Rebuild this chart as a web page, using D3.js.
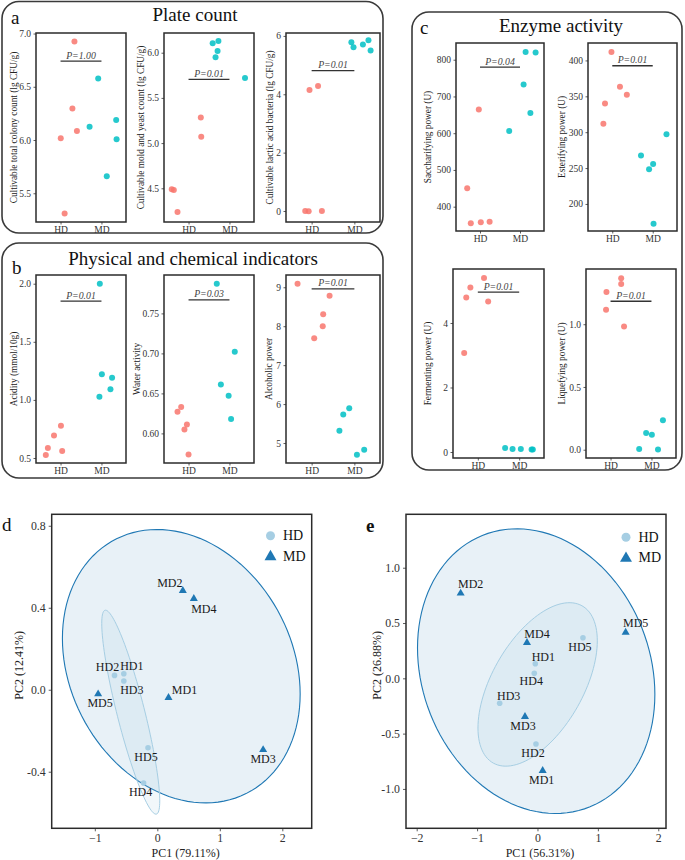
<!DOCTYPE html>
<html><head><meta charset="utf-8">
<script src="https://cdn.jsdelivr.net/npm/d3@7"></script>
<style>body{margin:0;background:#fff} svg{display:block;font-family:"Liberation Serif","Times New Roman",serif}</style>
</head><body><svg id="chart" width="685" height="860"></svg>
<script>
// ---------------- DATA ----------------
const groups = ["HD", "MD"];

// a: Plate count
const totalColonyHD = [6.016, 6.297, 6.084, 6.925, 5.31];
const totalColonyMD = [6.125, 6.578, 5.66, 6.187, 6.006];
const moldYeastHD = [4.489, 4.48, 4.238, 5.284, 5.07];
const moldYeastMD = [6.104, 6.13, 6.019, 5.95, 5.72];
const lacticHD = [0.0, -0.01, 0.0, 4.147, 4.285];
const lacticMD = [5.78, 5.61, 5.71, 5.85, 5.50];
// b: Physical and chemical indicators
const acidityHD = [0.526, 0.586, 0.694, 0.777, 0.56];
const acidityMD = [2.0, 1.221, 1.19, 1.092, 1.028];
const waterHD = [0.627, 0.633, 0.605, 0.611, 0.5735];
const waterMD = [0.787, 0.702, 0.661, 0.647, 0.618];
const alcoholHD = [9.09, 8.785, 8.31, 8.0, 7.69];
const alcoholMD = [5.89, 5.73, 5.315, 4.70, 4.83];
// c: Enzyme activity
const sacchHD = [450.1, 354.7, 357.4, 359.1, 664.3];
const sacchMD = [606.3, 732.5, 655.3, 820.7, 819.6];
const esterHD = [411.7, 340.0, 311.7, 363.3, 352.1];
const esterMD = [297.2, 267.4, 248.3, 255.7, 172.3];
const fermHD = [3.07, 4.79, 5.10, 5.395, 4.67];
const fermMD = [0.124, 0.093, 0.093, 0.08, 0.08];
const liqHD = [1.116, 1.257, 1.366, 1.32, 0.981];
const liqMD = [0.006, 0.133, 0.119, 0.002, 0.234];

// jitter offsets (in category units)
const jit = {
  totalColony: [[0.005, 0.29, 0.40, 0.34, 0.10], [-0.29, -0.08, 0.13, 0.36, 0.37]],
  moldYeast: [[-0.41, -0.36, -0.27, 0.30, 0.31], [-0.41, -0.27, -0.29, -0.34, 0.38]],
  lactic: [[-0.15, -0.07, 0.24, -0.05, 0.15], [-0.07, -0.02, 0.20, 0.33, 0.38]],
  acidity: [[-0.36, -0.31, -0.16, 0.01, 0.04], [-0.04, 0.01, 0.26, 0.22, -0.05]],
  water: [[-0.27, -0.18, -0.10, -0.04, 0.0], [-0.31, 0.13, -0.21, -0.02, 0.04]],
  alcohol: [[-0.33, 0.42, 0.27, 0.26, 0.06], [-0.12, -0.26, -0.35, 0.06, 0.23]],
  sacch: [[-0.32, -0.23, 0.02, 0.24, -0.03], [-0.27, 0.09, 0.26, 0.14, 0.39]],
  ester: [[-0.02, -0.18, -0.22, 0.19, 0.36], [0.34, -0.29, -0.09, 0.01, 0.02]],
  ferm: [[-0.33, -0.28, -0.18, 0.15, 0.25], [-0.34, -0.16, 0.04, 0.30, 0.33]],
  liq: [[-0.11, -0.10, 0.26, 0.26, 0.33], [-0.3, -0.13, 0.01, 0.16, 0.28]]
};

const pLabels = ["P=1.00", "P=0.01", "P=0.01", "P=0.01", "P=0.03", "P=0.01", "P=0.04", "P=0.01", "P=0.01", "P=0.01"];
const pLevels = [6.74, 5.706, 4.81, 1.851, 0.767, 8.96, 780, 392.6, 4.96, 1.183];

const yTitles = ["Cultivable total colony count (lg CFU/g)", "Cultivable mold and yeast count (lg CFU/g)",
  "Cultivable lactic acid bacteria (lg CFU/g)", "Acidity (mmol/10g)", "Water activity", "Alcoholic power",
  "Saccharifying power (U)", "Esterifying power (U)", "Fermenting power (U)", "Liquefying power (U)"];
const yTicks = [[5.5, 6.0, 6.5, 7.0], [4.5, 5.0, 5.5, 6.0], [0, 2, 4, 6], [0.5, 1.0, 1.5, 2.0],
  [0.60, 0.65, 0.70, 0.75], [5, 6, 7, 8, 9], [400, 500, 600, 700, 800], [200, 250, 300, 350, 400],
  [0, 2, 4], [0.0, 0.5, 1.0]];

// PCA
const sampleNames = ["HD1", "HD2", "HD3", "HD4", "HD5", "MD1", "MD2", "MD3", "MD4", "MD5"];
const sampleGroups = ["HD", "HD", "HD", "HD", "HD", "MD", "MD", "MD", "MD", "MD"];
const pcaD_PC1 = [-0.536, -0.685, -0.536, -0.22, -0.149, 0.179, 0.408, 1.693, 0.584, -0.947];
const pcaD_PC2 = [0.078, 0.070, 0.043, -0.455, -0.283, -0.039, 0.483, -0.293, 0.444, -0.021];
const pcaE_PC1 = [-0.036, -0.025, -0.626, -0.053, 0.753, 0.086, -1.272, -0.207, -0.174, 1.46];
const pcaE_PC2 = [0.132, -0.594, -0.226, 0.045, 0.367, -0.835, 0.769, -0.347, 0.322, 0.416];
const pcaXTicksD = [-1, 0, 1, 2];
const pcaYTicksD = [-0.4, 0.0, 0.4, 0.8];
const pcaXTicksE = [-2, -1, 0, 1, 2];
const pcaYTicksE = [-1.0, -0.5, 0.0, 0.5, 1.0];
// confidence ellipse spreads (sd-x, sd-y, correlation)
const ellipseD = {HD: [0.464, 0.4976, -0.87], MD: [1.902, 0.667, -0.2035]};
const ellipseE = {HD: [0.988, 0.739, 0.533], MD: [1.965, 1.287, -0.163]};

// ---------------- LAYOUT ----------------
const stripLayout = [
  {key: "totalColony", hd: totalColonyHD, md: totalColonyMD, frame: [36, 126, 33, 222], dom: [5.23, 7.005], fmt: ".1f", tx: 13.5},
  {key: "moldYeast", hd: moldYeastHD, md: moldYeastMD, frame: [164, 254, 33, 222], dom: [4.127, 6.218], fmt: ".1f", tx: 140.7},
  {key: "lactic", hd: lacticHD, md: lacticMD, frame: [286, 380, 33, 222], dom: [-0.377, 6.1], fmt: "d", tx: 270},
  {key: "acidity", hd: acidityHD, md: acidityMD, frame: [36, 126, 275, 463], dom: [0.457, 2.075], fmt: ".1f", tx: 13.5},
  {key: "water", hd: waterHD, md: waterMD, frame: [164, 254, 275, 463], dom: [0.563, 0.798], fmt: ".2f", tx: 136.7},
  {key: "alcohol", hd: alcoholHD, md: alcoholMD, frame: [286, 380, 275, 463], dom: [4.487, 9.315], fmt: "d", tx: 268.7},
  {key: "sacch", hd: sacchHD, md: sacchMD, frame: [456, 544, 43, 231], dom: [333.8, 845.5], fmt: "d", tx: 428.3},
  {key: "ester", hd: esterHD, md: esterMD, frame: [588, 677, 43, 231], dom: [162.3, 424.3], fmt: "d", tx: 561.7},
  {key: "ferm", hd: fermHD, md: fermMD, frame: [453, 544, 269, 458], dom: [-0.186, 5.674], fmt: "d", tx: 428.3},
  {key: "liq", hd: liqHD, md: liqMD, frame: [586, 676, 269, 458], dom: [-0.066, 1.44], fmt: ".1f", tx: 561.7}
];

const COL = {HD: "#F8766D", MD: "#00BFC4"};
const PCOL = {HD: "#A6CEE3", MD: "#1F78B4"};
const svg = d3.select("#chart");

function roundBox(x0, y0, x1, y1) {
  svg.append("rect").attr("x", x0).attr("y", y0).attr("width", x1 - x0).attr("height", y1 - y0)
    .attr("rx", 17).attr("fill", "none").attr("stroke", "#3a3a3a").attr("stroke-width", 1.6);
}
function txt(x, y, s, size, opts = {}) {
  const t = svg.append("text").attr("x", x).attr("y", y).text(s).attr("font-size", size)
    .attr("fill", opts.fill || "#111").attr("text-anchor", opts.anchor || "middle");
  if (opts.weight) t.attr("font-weight", opts.weight);
  return t;
}

roundBox(2, 1.5, 383, 233);
roundBox(2, 243, 383, 478);
roundBox(412, 12, 682, 470);
txt(195, 21, "Plate count", 19);
txt(193, 265, "Physical and chemical indicators", 19);
txt(561, 32, "Enzyme activity", 19);
txt(11, 24, "a", 19, {anchor: "start"});
txt(12, 274, "b", 19, {anchor: "start"});
txt(420, 34, "c", 19, {anchor: "start"});

function styleAxis(g, size) {
  g.selectAll("path").remove();
  g.selectAll("line").attr("stroke", "#333").attr("stroke-width", 0.8);
  g.selectAll("text").attr("font-family", "Liberation Serif, serif").attr("font-size", size).attr("fill", "#333");
}

stripLayout.forEach((L, i) => {
  const [x0, x1, y0, y1] = L.frame;
  const x = d3.scalePoint().domain(groups).range([x0, x1]).padding(0.6);
  const y = d3.scaleLinear().domain(L.dom).range([y1, y0]);
  const g = svg.append("g");
  const ya = g.append("g").attr("transform", `translate(${x0},0)`)
    .call(d3.axisLeft(y).tickValues(yTicks[i]).tickFormat(d3.format(L.fmt)).tickSize(2.5).tickPadding(2.5));
  styleAxis(ya, 9.5);
  const xa = g.append("g").attr("transform", `translate(0,${y1})`)
    .call(d3.axisBottom(x).tickSize(2.5).tickPadding(1.5));
  styleAxis(xa, 9.5);
  g.append("rect").attr("x", x0).attr("y", y0).attr("width", x1 - x0).attr("height", y1 - y0)
    .attr("fill", "none").attr("stroke", "#2b2b2b").attr("stroke-width", 1.5);
  g.append("text").attr("transform", `translate(${L.tx},${(y0 + y1) / 2}) rotate(-90)`)
    .attr("text-anchor", "middle").attr("dominant-baseline", "central")
    .attr("font-size", 9.3).attr("fill", "#222").text(yTitles[i]);
  const pts = [];
  [L.hd, L.md].forEach((arr, gi) => arr.forEach((v, k) => pts.push({g: groups[gi], v, j: jit[L.key][gi][k]})));
  g.selectAll("circle.pt").data(pts).join("circle").attr("class", "pt")
    .attr("cx", d => x(d.g) + d.j * x.step()).attr("cy", d => y(d.v)).attr("r", 3)
    .attr("fill", d => COL[d.g]).attr("fill-opacity", 0.85);
  const py = y(pLevels[i]);
  g.append("line").attr("x1", x("HD")).attr("x2", x("MD")).attr("y1", py).attr("y2", py)
    .attr("stroke", "#333").attr("stroke-width", 1.3);
  g.append("text").attr("x", (x("HD") + x("MD")) / 2).attr("y", py - 2.5).attr("text-anchor", "middle")
    .attr("font-size", 9.8).attr("font-style", "italic").attr("fill", "#444").text(pLabels[i]);
});

// ---------------- PCA ----------------
function pca(cfg) {
  const [x0, x1, y0, y1] = cfg.frame;
  const x = d3.scaleLinear().domain(cfg.xDom).range([x0, x1]);
  const y = d3.scaleLinear().domain(cfg.yDom).range([y1, y0]);
  const g = svg.append("g");
  const data = sampleNames.map((n, i) => ({n, g: sampleGroups[i], x: cfg.pc1[i], y: cfg.pc2[i], o: cfg.off[i]}));
  // ellipses
  ["MD", "HD"].forEach(gr => {
    const sub = data.filter(d => d.g === gr);
    const cx = d3.mean(sub, d => d.x), cy = d3.mean(sub, d => d.y);
    const [sx, sy, r] = cfg.ell[gr];
    const pts = d3.range(0, 121).map(k => {
      const t = k / 120 * 2 * Math.PI;
      return [cx + sx * Math.cos(t), cy + sy * (r * Math.cos(t) + Math.sqrt(1 - r * r) * Math.sin(t))];
    });
    g.append("path").attr("d", d3.line().x(d => x(d[0])).y(d => y(d[1]))(pts) + "Z")
      .attr("fill", PCOL[gr]).attr("fill-opacity", gr === "MD" ? 0.1 : 0.16)
      .attr("stroke", PCOL[gr]).attr("stroke-width", gr === "MD" ? 1.1 : 1);
  });
  const ya = g.append("g").attr("transform", `translate(${x0},0)`)
    .call(d3.axisLeft(y).tickValues(cfg.yt).tickFormat(d => d3.format(".1f")(d).replace("−", "-")).tickSize(3).tickPadding(3));
  styleAxis(ya, 11.8);
  const xa = g.append("g").attr("transform", `translate(0,${y1})`)
    .call(d3.axisBottom(x).tickValues(cfg.xt).tickFormat(d3.format("d")).tickSize(3).tickPadding(2.5));
  styleAxis(xa, 11.8);
  g.append("rect").attr("x", x0).attr("y", y0).attr("width", x1 - x0).attr("height", y1 - y0)
    .attr("fill", "none").attr("stroke", "#2b2b2b").attr("stroke-width", 1.5);
  // points
  g.selectAll("circle.hd").data(data.filter(d => d.g === "HD")).join("circle").attr("class", "hd")
    .attr("cx", d => x(d.x)).attr("cy", d => y(d.y)).attr("r", 2.8).attr("fill", PCOL.HD);
  g.selectAll("path.md").data(data.filter(d => d.g === "MD")).join("path").attr("class", "md")
    .attr("d", d3.symbol(d3.symbolTriangle, 28)).attr("transform", d => `translate(${x(d.x)},${y(d.y)})`)
    .attr("fill", PCOL.MD);
  g.selectAll("text.lab").data(data).join("text").attr("class", "lab")
    .attr("x", d => x(d.x) + d.o[0]).attr("y", d => y(d.y) + d.o[1])
    .attr("text-anchor", "middle").attr("dominant-baseline", "central")
    .attr("font-size", 12).attr("fill", "#1a1a1a").text(d => d.n);
  // legend
  g.append("circle").attr("cx", cfg.leg[0]).attr("cy", cfg.leg[1]).attr("r", 4.5).attr("fill", PCOL.HD);
  g.append("path").attr("d", d3.symbol(d3.symbolTriangle, 62))
    .attr("transform", `translate(${cfg.leg[0]},${cfg.leg[1] + 21})`).attr("fill", PCOL.MD);
  g.append("text").attr("x", cfg.leg[0] + 12.5).attr("y", cfg.leg[1]).attr("dominant-baseline", "central")
    .attr("font-size", 14).attr("fill", "#111").text("HD");
  g.append("text").attr("x", cfg.leg[0] + 12.5).attr("y", cfg.leg[1] + 20.5).attr("dominant-baseline", "central")
    .attr("font-size", 14).attr("fill", "#111").text("MD");
  // axis titles
  g.append("text").attr("x", (x0 + x1) / 2 + 4).attr("y", 857).attr("text-anchor", "middle")
    .attr("font-size", 12).attr("fill", "#222").text(cfg.xTitle);
  g.append("text").attr("transform", `translate(${cfg.ytx},${(y0 + y1) / 2 - 6}) rotate(-90)`)
    .attr("text-anchor", "middle").attr("dominant-baseline", "central")
    .attr("font-size", 12).attr("fill", "#222").text(cfg.yTitle);
  g.append("text").attr("x", cfg.letter[0]).attr("y", cfg.letter[1]).attr("font-size", 19)
    .attr("font-weight", cfg.letter[2]).attr("fill", "#111").text(cfg.letter[3]);
}

const labelOffD = [[8, -8], [-7, -8], [8, 9.5], [-3, 9], [-2, 9], [16, -8], [-13, -8], [0, 9.5], [10, 10], [2, 9]];
const labelOffE = [[8, -7], [-3, 9], [9, -7], [-3, 7.5], [-3, 9], [-1, 9], [10, -9], [-2, 9], [10, -9], [10, -9.5]];

pca({frame: [51.7, 311.7, 514.3, 828.3], xDom: [-1.69, 2.47], yDom: [-0.676, 0.856],
  pc1: pcaD_PC1, pc2: pcaD_PC2, off: labelOffD, ell: ellipseD, xt: pcaXTicksD, yt: pcaYTicksD,
  leg: [270.5, 535.7], xTitle: "PC1 (79.11%)", yTitle: "PC2 (12.41%)", ytx: 18.5, letter: [2, 531, "normal", "d"]});
pca({frame: [406, 666, 514.3, 828.3], xDom: [-2.177, 2.128], yDom: [-1.356, 1.483],
  pc1: pcaE_PC1, pc2: pcaE_PC2, off: labelOffE, ell: ellipseE, xt: pcaXTicksE, yt: pcaYTicksE,
  leg: [626, 537.3], xTitle: "PC1 (56.31%)", yTitle: "PC2 (26.88%)", ytx: 376.7, letter: [366, 532, "bold", "e"]});
</script></body></html>
